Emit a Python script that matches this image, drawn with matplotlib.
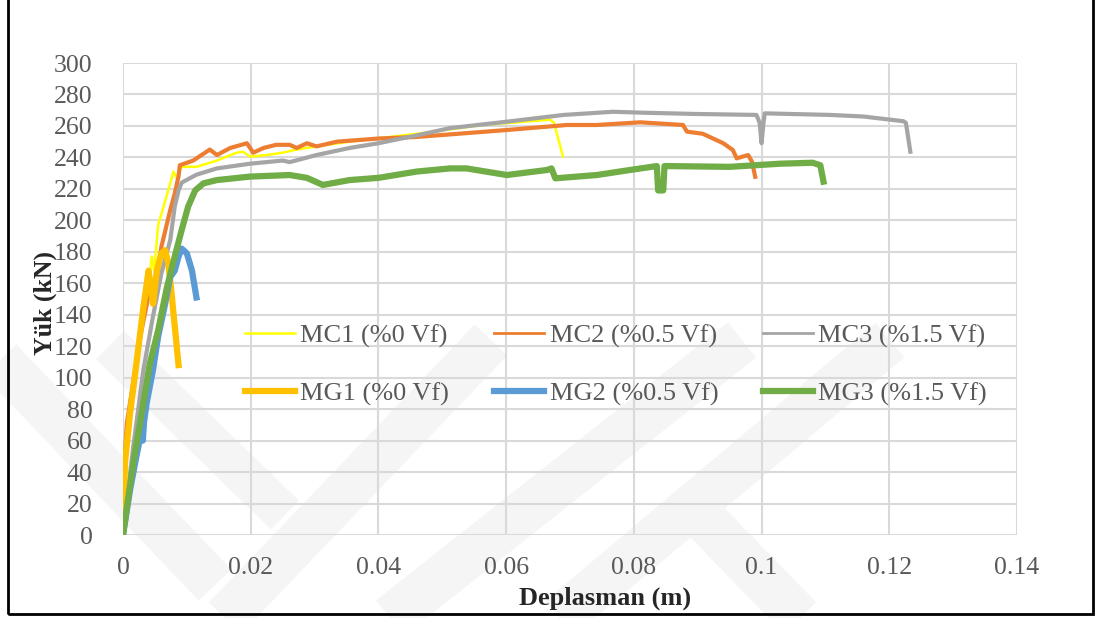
import numpy as np
import matplotlib
matplotlib.use("Agg")
import matplotlib.pyplot as plt
from matplotlib.patches import Polygon

# --- data (displacement in m, load in kN) ---
mc1_x = [0, 0.0003, 0.0012, 0.0022, 0.0032, 0.0042, 0.0045, 0.0049, 0.0055, 0.0068, 0.0079,
         0.0084, 0.0092, 0.0115, 0.0147, 0.0178, 0.0188, 0.0199, 0.0225, 0.025, 0.0272, 0.0303,
         0.0355, 0.046, 0.0564, 0.0669, 0.0675, 0.0689]
mc1_y = [0, 40, 80, 110, 140, 165, 177, 168, 197, 215, 231,
         227, 234, 234, 238, 243, 243.6, 240.5, 241.5, 243, 245, 247,
         250, 255, 260.6, 264, 262, 240.5]

mc2_x = [0, 0.0002, 0.0006, 0.0027, 0.0042, 0.0055, 0.006, 0.0074, 0.0081, 0.0087, 0.0089,
         0.011, 0.0136, 0.0147, 0.0168, 0.0194, 0.0204, 0.022, 0.024, 0.0261, 0.0272, 0.0288,
         0.0303, 0.0335, 0.04, 0.046, 0.0601, 0.0695, 0.0742, 0.081, 0.0877, 0.0883, 0.0908,
         0.094, 0.0955, 0.0961, 0.0979, 0.0985, 0.099]
mc2_y = [0, 45, 71, 126, 156, 168, 183, 206.6, 217, 228, 235,
         238, 245, 241.5, 246, 249, 243, 246, 248, 248, 246, 249,
         247, 250, 252, 253, 257.4, 260.6, 260.6, 262.3, 260.6, 256.4, 255,
         249, 244.7, 239.4, 241.5, 237.3, 227.7]

mc3_x = [0, 0.0016, 0.0032, 0.0047, 0.006, 0.0074, 0.0081, 0.0087, 0.0092, 0.0115, 0.0147,
         0.0199, 0.025, 0.0261, 0.0303, 0.0355, 0.04, 0.046, 0.0512, 0.0601, 0.069, 0.0767,
         0.0815, 0.0898, 0.0992, 0.0997, 0.1, 0.1003, 0.1005, 0.1107, 0.1159, 0.1222, 0.1226,
         0.1233]
mc3_y = [0, 56, 105, 139, 166, 187.5, 208.7, 219, 224, 229, 233,
         236, 238, 237, 241.5, 246, 249, 254, 258.6, 262.7, 267, 269,
         268.4, 267.6, 267, 262, 249, 262, 268, 267, 266, 263, 262,
         243.6]

mg1_x = [0, 0.0003, 0.0011, 0.0021, 0.0032, 0.004, 0.0042, 0.0047, 0.0053, 0.006, 0.0066,
         0.0071, 0.0076, 0.0087]
mg1_y = [0, 45.6, 77, 109, 145, 168, 162, 147, 168, 179, 181,
         172.7, 153.6, 108]

mg2_x = [0, 0.0011, 0.0021, 0.0029, 0.0031, 0.0033, 0.0037, 0.0047, 0.0055, 0.0066, 0.0074,
         0.0081, 0.0087, 0.0092, 0.01, 0.0108, 0.0115]
mg2_y = [0, 28.6, 50, 66, 60, 72, 83.7, 105, 126, 147, 164,
         168, 177, 182, 179, 168, 151]

mg3_x = [0, 0.0016, 0.0032, 0.0042, 0.0055, 0.0068, 0.0081, 0.0092, 0.0102, 0.0113, 0.0126,
         0.0147, 0.0199, 0.0261, 0.0288, 0.0313, 0.0355, 0.04, 0.046, 0.0512, 0.0538, 0.0601,
         0.0664, 0.0671, 0.0677, 0.0742, 0.0794, 0.0836, 0.0838, 0.0846, 0.0848, 0.095, 0.1029,
         0.108, 0.1092, 0.1097]
mg3_y = [0, 45.6, 84, 109, 130, 156, 177, 194, 208.7, 219, 223.5,
         225.6, 227.8, 228.8, 227, 222.5, 225.6, 227, 231, 233, 233, 228.8,
         232, 233, 226.7, 228.8, 232, 234.5, 219, 219, 234.5, 234, 236,
         236.6, 235, 224.6]

labels = ["MC1 (%0 Vf)", "MC2 (%0.5 Vf)", "MC3 (%1.5 Vf)",
          "MG1 (%0 Vf)", "MG2 (%0.5 Vf)", "MG3 (%1.5 Vf)"]
colors = ["#FFFF00", "#ED7D31", "#A5A5A5", "#FFC000", "#5B9BD5", "#70AD47"]
widths = [1.8, 3.0, 3.0, 4.5, 4.5, 4.5]
legend_widths = [1.8, 2.0, 2.0, 4.5, 4.5, 4.5]
xticks = [0, 0.02, 0.04, 0.06, 0.08, 0.1, 0.12, 0.14]
xtick_labels = ["0", "0.02", "0.04", "0.06", "0.08", "0.1", "0.12", "0.14"]

plt.rcParams["font.family"] = ["Liberation Serif", "DejaVu Serif"]

W, H = 1096, 618
fig = plt.figure(figsize=(W / 100, H / 100), dpi=100)


def px(x, y):
    return (x / W, 1 - y / H)


def band(p0, p1, w, color="#f5f5f5"):
    # faint diagonal watermark stripe, drawn in figure pixel coords
    p0, p1 = np.array(p0, float), np.array(p1, float)
    d = p1 - p0
    n = np.array([-d[1], d[0]]) / np.hypot(*d) * w / 2
    pts = [p0 + n, p1 + n, p1 - n, p0 - n]
    fig.patches.append(Polygon([px(*p) for p in pts], closed=True, transform=fig.transFigure,
                               facecolor=color, edgecolor="none", zorder=-1))


band((0, 360), (215, 585), 45)
band((110, 345), (285, 515), 40)
band((225, 618), (491, 340), 45)
band((390, 618), (742, 340), 45)
band((560, 618), (890, 340), 45)
band((700, 515), (800, 618), 45)

ax = fig.add_axes([123 / W, (H - 535) / H, 894 / W, 472 / H])
ax.patch.set_alpha(0)

series = [(mc1_x, mc1_y), (mc2_x, mc2_y), (mc3_x, mc3_y),
          (mg1_x, mg1_y), (mg2_x, mg2_y), (mg3_x, mg3_y)]
lines = []
for (xs, ys), lab, c, lw in zip(series, labels, colors, widths):
    ln, = ax.plot(xs, ys, color=c, lw=lw, label=lab, solid_joinstyle="round")
    lines.append(ln)

ax.set_xlim(0, 0.14)
ax.set_ylim(0, 300)
ax.set_xticks(xticks)
ax.set_xticklabels(xtick_labels)
ax.set_yticks(np.arange(0, 301, 20))
ax.grid(True, color="#D9D9D9", lw=1.5)
ax.set_axisbelow(True)
for s in ax.spines.values():
    s.set_visible(False)
ax.tick_params(length=0, labelsize=18.5, labelcolor="#595959")
ax.tick_params(axis="y", pad=22)
ax.tick_params(axis="x", pad=16)

fig.text(45 / W, 1 - 303 / H, "Yük (kN)", rotation=90, ha="center", va="center",
         fontsize=18.5, fontweight="bold", color="#262626")
fig.text(605 / W, 1 - 598 / H, "Deplasman (m)", ha="center", va="center",
         fontsize=19, fontweight="bold", color="#262626")

# legend fills column by column, so interleave MC and MG rows
order = [0, 3, 1, 4, 2, 5]
leg = ax.legend([lines[i] for i in order], [labels[i] for i in order],
                ncol=3, loc="upper left", bbox_to_anchor=px(245, 324),
                bbox_transform=fig.transFigure, frameon=False, fontsize=19,
                labelcolor="#595959", handlelength=1.9, handletextpad=0.2,
                columnspacing=1.7, labelspacing=1.3, borderpad=0, borderaxespad=0)
for h, i in zip(leg.get_lines(), order):
    h.set_linewidth(legend_widths[i])

# black frame around the whole chart (top edge sits just above the image)
fig.patches.append(plt.Rectangle(px(8, 614), 1085 / W, 620 / H, transform=fig.transFigure,
                                 fill=False, edgecolor="black", lw=2, zorder=5))

fig.savefig("out.png", dpi=100)
